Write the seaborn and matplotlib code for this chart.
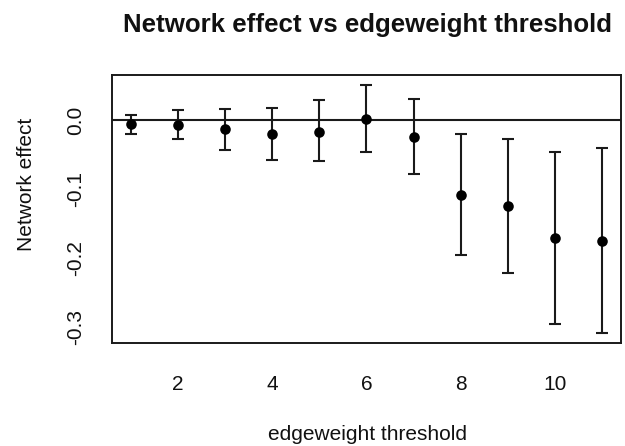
import matplotlib
matplotlib.use("Agg")
import matplotlib.pyplot as plt
import seaborn as sns
import pandas as pd
import numpy as np

# Data
thresholds = [1, 2, 3, 4, 5, 6, 7, 8, 9, 10, 11]
effect = [-0.006, -0.007, -0.013, -0.020, -0.017, 0.001, -0.024, -0.109, -0.124, -0.171, -0.175]
upper = [0.007, 0.0145, 0.016, 0.018, 0.0285, 0.050, 0.030, -0.021, -0.027, -0.046, -0.040]
lower = [-0.020, -0.028, -0.044, -0.0575, -0.059, -0.047, -0.079, -0.196, -0.222, -0.295, -0.309]
xticks = [2, 4, 6, 8, 10]
yticks = [0.0, -0.1, -0.2, -0.3]
ytick_labels = ["0.0", "-0.1", "-0.2", "-0.3"]

df = pd.DataFrame({"threshold": thresholds, "effect": effect,
                   "upper": upper, "lower": lower})

sns.set_style("white")
plt.rcParams["font.family"] = ["Liberation Sans", "DejaVu Sans"]

fig = plt.figure(figsize=(6.25, 4.46), dpi=100)
ax = fig.add_axes([0.1787, 0.2303, 0.8149, 0.6016])

ink = "#1a1a1a"

ax.axhline(0, color=ink, lw=1.5, zorder=1)

yerr = np.vstack([df["effect"] - df["lower"], df["upper"] - df["effect"]])
ax.errorbar(df["threshold"], df["effect"], yerr=yerr, fmt="none",
            ecolor=ink, elinewidth=1.5, capsize=4.6, capthick=1.5, zorder=2)
sns.scatterplot(data=df, x="threshold", y="effect", ax=ax, color="black",
                s=58, edgecolor="black", linewidth=0, zorder=3, legend=False)

ax.set_xlim(0.6, 11.4)
ax.set_ylim(-0.3236, 0.0652)
ax.set_xticks(xticks)
ax.set_xticklabels([str(t) for t in xticks])
ax.set_yticks(yticks)
ax.set_yticklabels(ytick_labels)

for s in ax.spines.values():
    s.set_color(ink)
    s.set_linewidth(1.4)
    s.set_visible(True)

ax.tick_params(axis="both", direction="out", length=9, width=1.4,
               color=ink, labelsize=15, labelcolor="#111111")
ax.tick_params(axis="x", pad=13.5)
ax.tick_params(axis="y", pad=10, labelrotation=90)
for lab in ax.get_yticklabels():
    lab.set_va("center")

ax.set_xlabel("edgeweight threshold", fontsize=15, color="#111111")
ax.xaxis.set_label_coords(0.502, -0.360)
ax.xaxis.label.set_va("baseline")
ax.set_ylabel("Network effect", fontsize=15, color="#111111")
ax.yaxis.set_label_coords(-0.157, 0.594)
ax.yaxis.label.set_va("baseline")

fig.text(0.588, 1 - 31.7 / 446, "Network effect vs edgeweight threshold",
         ha="center", va="baseline", fontsize=18.6, fontweight="bold",
         color="#111111")

fig.savefig("out.png", dpi=100)
